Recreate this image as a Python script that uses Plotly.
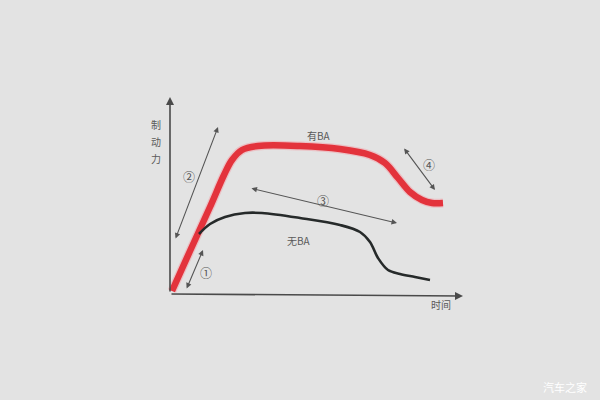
import plotly.graph_objects as go

# 有BA curve (time, force) in picture units
with_ba_t = [172, 190, 210, 224, 232, 242, 258, 300, 340, 370, 385, 398, 410, 422, 432, 443]
with_ba_f = [291, 251, 207, 175, 160, 150, 146, 146, 149, 155, 163, 178, 192, 200, 203, 203]
# 无BA curve
without_ba_t = [199, 210, 225, 245, 262, 300, 340, 360, 370, 378, 388, 400, 415, 430]
without_ba_f = [234, 224, 217, 213, 213, 218, 225, 232, 242, 258, 270, 274, 277, 280]

# double arrows: (x0, y0, x1, y1)
arrow_segments = [
    (186, 290, 203, 250),
    (175, 240, 218, 127),
    (250, 188, 397, 223),
    (403, 147, 435, 190),
]
circle_labels = ["①", "②", "③", "④"]
circle_pos = [(206, 272), (189, 176), (323, 200), (429, 164)]
y_label_chars = ["制", "动", "力"]
y_label_pos = [(156, 124), (156, 141), (156, 158)]

BG = "#e3e3e3"
fig = go.Figure()
fig.add_trace(go.Scatter(x=with_ba_t, y=with_ba_f, mode="lines",
                         line=dict(color="rgba(245,150,160,0.45)", width=9, shape="spline"),
                         hoverinfo="skip", showlegend=False))
fig.add_trace(go.Scatter(x=with_ba_t, y=with_ba_f, mode="lines",
                         line=dict(color="#e3333c", width=6.5, shape="spline"),
                         showlegend=False))
fig.add_trace(go.Scatter(x=without_ba_t, y=without_ba_f, mode="lines",
                         line=dict(color="#262a2a", width=2.6, shape="spline"),
                         showlegend=False))

ann = []
# axes
ann.append(dict(x=170, y=97, ax=170, ay=293, xref="x", yref="y", axref="x", ayref="y",
                showarrow=True, arrowhead=2, arrowsize=1, arrowwidth=1.6, arrowcolor="#4a4a4a", text=""))
ann.append(dict(x=463, y=296, ax=170, ay=294, xref="x", yref="y", axref="x", ayref="y",
                showarrow=True, arrowhead=2, arrowsize=1, arrowwidth=1.6, arrowcolor="#4a4a4a", text=""))
for (x0, y0, x1, y1) in arrow_segments:
    ann.append(dict(x=x1, y=y1, ax=x0, ay=y0, xref="x", yref="y", axref="x", ayref="y",
                    showarrow=True, arrowhead=2, startarrowhead=2, arrowside="end+start",
                    arrowsize=1, startarrowsize=1, arrowwidth=1.1, arrowcolor="#555555", text=""))
font = dict(family="Noto Sans CJK SC", size=10, color="#5a5a5a")
for lab, (x, y) in zip(circle_labels, circle_pos):
    ann.append(dict(x=x, y=y, xref="x", yref="y", text=lab, showarrow=False,
                    font=dict(family="Noto Sans CJK SC", size=12, color="#555555")))
for ch, (x, y) in zip(y_label_chars, y_label_pos):
    ann.append(dict(x=x, y=y, xref="x", yref="y", text=ch, showarrow=False, font=font))
ann.append(dict(x=319, y=135, xref="x", yref="y", text="有BA", showarrow=False, font=font))
ann.append(dict(x=299, y=240, xref="x", yref="y", text="无BA", showarrow=False, font=font))
ann.append(dict(x=441, y=304, xref="x", yref="y", text="时间", showarrow=False, font=font))
ann.append(dict(x=565, y=387, xref="x", yref="y", text="汽车之家", showarrow=False,
                font=dict(family="Noto Sans CJK SC", size=11, color="#ffffff")))

fig.update_layout(
    width=600, height=400, margin=dict(l=0, r=0, t=0, b=0),
    paper_bgcolor=BG, plot_bgcolor=BG,
    xaxis=dict(range=[0, 600], visible=False),
    yaxis=dict(range=[400, 0], visible=False),
    annotations=ann, showlegend=False,
)
fig.write_html("out.html", config={"displayModeBar": False},
               post_script="document.body.style.margin='0';document.body.style.background='#e3e3e3';")
